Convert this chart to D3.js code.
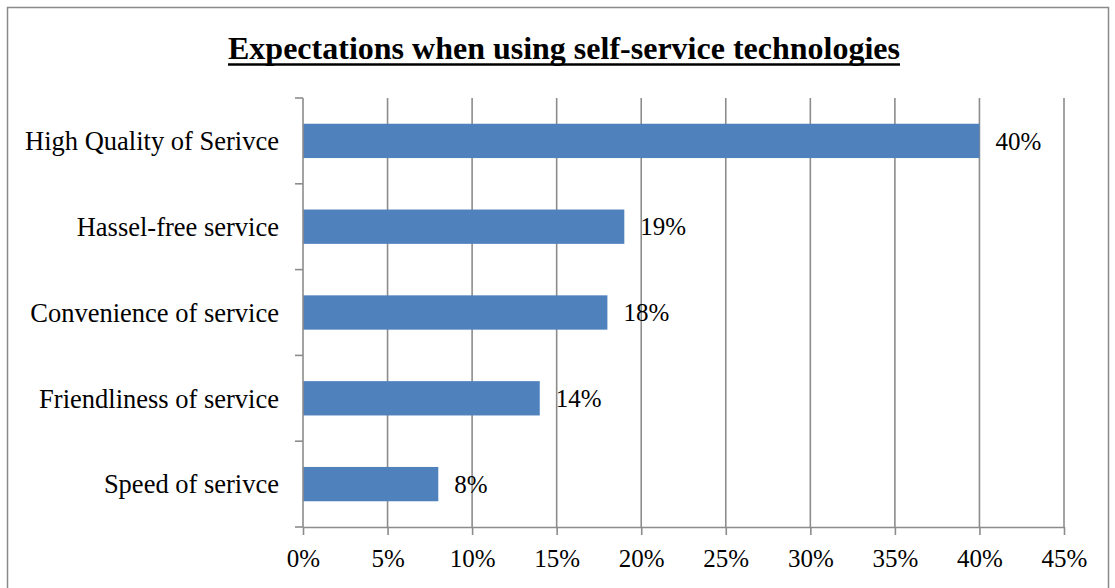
<!DOCTYPE html>
<html>
<head>
<meta charset="utf-8">
<script src="https://cdn.jsdelivr.net/npm/d3@7"></script>
<style>
  html, body { margin: 0; padding: 0; background: #fff; }
  svg { display: block; }
  text { font-family: "Liberation Serif", "Times New Roman", serif; fill: #000; }
</style>
</head>
<body>
<svg id="chart" width="1115" height="588"></svg>
<script>
// Survey results: share of respondents per expectation
const categories = [
  "High Quality of Serivce",
  "Hassel-free service",
  "Convenience of service",
  "Friendliness of service",
  "Speed of serivce"
];
const values = [0.40, 0.19, 0.18, 0.14, 0.08];
const tickValues = [0, 0.05, 0.10, 0.15, 0.20, 0.25, 0.30, 0.35, 0.40, 0.45];
const title = "Expectations when using self-service technologies";

const margin = { left: 303, right: 1064, top: 98, bottom: 527 };
const svg = d3.select("#chart");

// outer chart frame
svg.append("rect")
  .attr("x", 7.5).attr("y", 7.5)
  .attr("width", 1101).attr("height", 590)
  .attr("fill", "#fff").attr("stroke", "#8a8a8a").attr("stroke-width", 1.5);

const x = d3.scaleLinear().domain([0, 0.45]).range([margin.left, margin.right]);
const y = d3.scaleBand().domain(categories).range([margin.top, margin.bottom]).paddingInner(0.6).paddingOuter(0.3);
const yEdges = d3.scaleLinear().domain([0, categories.length]).range([margin.top, margin.bottom]);

// title, bold and underlined
const t = svg.append("text")
  .attr("x", 564).attr("y", 59)
  .attr("text-anchor", "middle")
  .style("font-size", "32px").style("font-weight", "bold")
  .text(title);
const tb = t.node().getBBox();
svg.append("line")
  .attr("x1", tb.x).attr("x2", tb.x + tb.width)
  .attr("y1", 64.5).attr("y2", 64.5)
  .attr("stroke", "#000").attr("stroke-width", 2.5);

// vertical gridlines
svg.append("g").selectAll("line")
  .data(tickValues.slice(1))
  .join("line")
  .attr("x1", d => x(d)).attr("x2", d => x(d))
  .attr("y1", margin.top).attr("y2", margin.bottom)
  .attr("stroke", "#8c8c8c").attr("stroke-width", 1.6);

// bars
svg.append("g").selectAll("rect")
  .data(values)
  .join("rect")
  .attr("x", x(0))
  .attr("y", (d, i) => y(categories[i]))
  .attr("width", d => x(d) - x(0))
  .attr("height", y.bandwidth())
  .attr("fill", "#4f81bd");

// value labels
svg.append("g").selectAll("text")
  .data(values)
  .join("text")
  .attr("x", d => x(d) + 16)
  .attr("y", (d, i) => y(categories[i]) + y.bandwidth() / 2)
  .attr("dy", "0.35em")
  .style("font-size", "25px")
  .text(d => d3.format(".0%")(d));

// x axis
const xAxis = svg.append("g")
  .attr("transform", `translate(0,${margin.bottom})`)
  .call(d3.axisBottom(x).tickValues(tickValues).tickFormat(d3.format(".0%")).tickSize(8).tickSizeOuter(0));
xAxis.select(".domain").attr("stroke", "#8c8c8c").attr("stroke-width", 1.6);
xAxis.selectAll(".tick line").attr("stroke", "#8c8c8c").attr("stroke-width", 1.6);
xAxis.selectAll(".tick text")
  .attr("y", 22).attr("dy", "0.71em")
  .style("font-size", "25px")
  .style("font-family", "'Liberation Serif', 'Times New Roman', serif");

// y axis with ticks at category boundaries
const yAxis = svg.append("g");
yAxis.append("line")
  .attr("x1", margin.left).attr("x2", margin.left)
  .attr("y1", margin.top).attr("y2", margin.bottom)
  .attr("stroke", "#8c8c8c").attr("stroke-width", 1.6);
yAxis.selectAll("line.edge")
  .data(d3.range(categories.length + 1))
  .join("line").attr("class", "edge")
  .attr("x1", margin.left - 8).attr("x2", margin.left)
  .attr("y1", d => yEdges(d)).attr("y2", d => yEdges(d))
  .attr("stroke", "#8c8c8c").attr("stroke-width", 1.6);
yAxis.selectAll("text")
  .data(categories)
  .join("text")
  .attr("x", margin.left - 24)
  .attr("y", d => y(d) + y.bandwidth() / 2)
  .attr("dy", "0.35em")
  .attr("text-anchor", "end")
  .style("font-size", "26.5px")
  .text(d => d);
</script>
</body>
</html>
